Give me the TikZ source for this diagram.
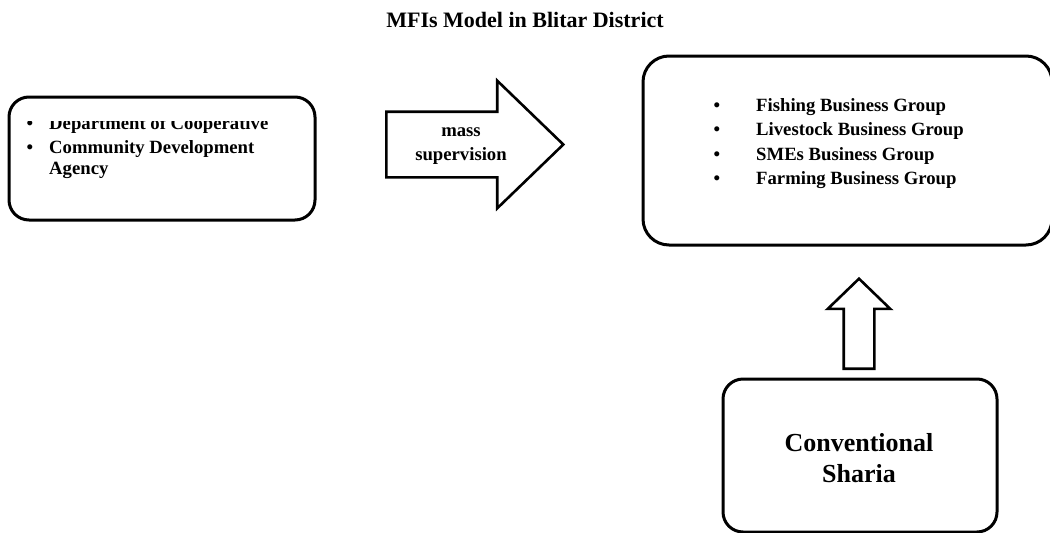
\documentclass[tikz,border=0pt]{standalone}
\usepackage{fontspec}
\setmainfont{Liberation Serif}
\usetikzlibrary{positioning,shapes.arrows}

\begin{document}
\begin{tikzpicture}[x=1pt,y=-1pt]
		\tikzstyle{every node}+=[inner sep=0pt]
		\tikzstyle{grpbox}=[draw=black, line width=3pt, rounded corners=20pt]
		\tikzstyle{item}=[anchor=base west, font=\bfseries\fontsize{18.7}{22}\selectfont]
		\tikzstyle{dot}=[anchor=base, font=\bfseries\fontsize{18.7}{22}\selectfont]
		\tikzstyle{bigarrow}=[draw=black, line width=2.6pt, single arrow, single arrow head indent=0pt, inner xsep=0pt, minimum width=1pt]
		\useasboundingbox (0,0) rectangle (1050,533);
		\node (title) at (525,20) {\bfseries\fontsize{22}{24}\selectfont MFIs Model in Blitar District};
		% the three boxes
		\node [grpbox, minimum width=306pt, minimum height=123pt] (agency) at (162,158.5) {};
		\node [grpbox, minimum width=409pt, minimum height=189pt, rounded corners=26pt] (groups) at (847.5,150.5) {};
		\node [grpbox, minimum width=274pt, minimum height=153pt] (mfi) at (860,455.5) {};
		% left box text, top line cut off as in the scan
		\begin{scope}
		\clip (0,121) rectangle (330,140);
		\node [dot] (b0) at (30,129) {•};
		\node [item] (dept) at (49,129) {Department of Cooperative};
		\end{scope}
		\node [dot] (b1) at (30,153) {•};
		\node [item] (cda) at (49,153) {Community Development};
		\node [item] (cda2) at (49,174.5) {Agency};
		% right box text
		\node [dot] (g1) at (717,111.5) {•};
		\node [item] (fish) at (756,111.5) {Fishing Business Group};
		\node [dot] (g2) at (717,135.8) {•};
		\node [item] (live) at (756,135.8) {Livestock Business Group};
		\node [dot] (g3) at (717,160.1) {•};
		\node [item] (sme) at (756,160.1) {SMEs Business Group};
		\node [dot] (g4) at (717,184.4) {•};
		\node [item] (farm) at (756,184.4) {Farming Business Group};
		% bottom box text
		\node [anchor=base, font=\bfseries\fontsize{26}{31}\selectfont] (conv) at (859,451.5) {Conventional};
		\node [anchor=base, font=\bfseries\fontsize{26}{31}\selectfont] (shar) at (859,482) {Sharia};
		% block arrows
		\node [bigarrow, anchor=tail, inner ysep=31.5pt, minimum height=177pt, single arrow head extend=31pt, single arrow tip angle=88] (mass) at (385,144.5) {};
		\node [anchor=base, font=\bfseries\fontsize{18.7}{22}\selectfont] (masst) at (461,136.5) {mass};
		\node [anchor=base, font=\bfseries\fontsize{18.7}{22}\selectfont] (supt) at (461,160) {supervision};
		\node [bigarrow, anchor=tail, rotate=90, inner ysep=14pt, minimum height=90pt, single arrow head extend=16pt, single arrow tip angle=92] (up) at (859,370) {};
		\end{tikzpicture}
\end{document}
